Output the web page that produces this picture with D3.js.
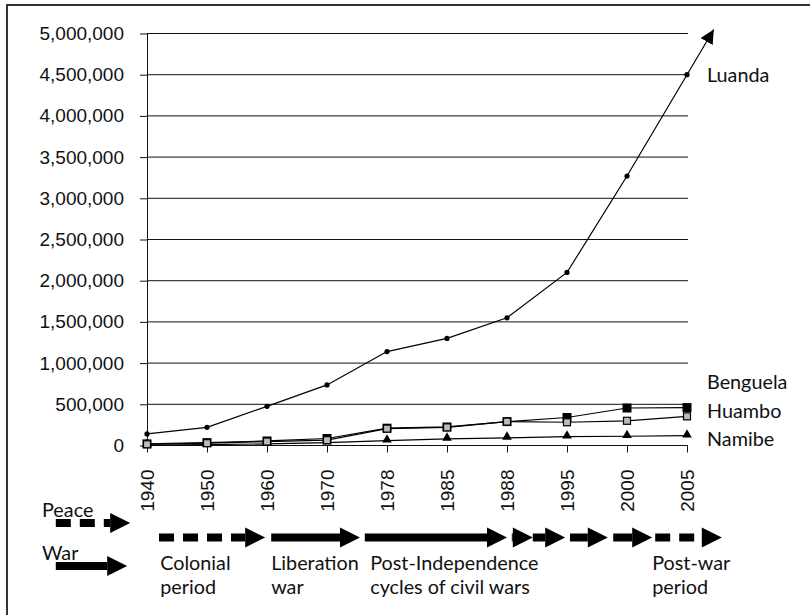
<!DOCTYPE html>
<html>
<head>
<meta charset="utf-8">
<script src="https://cdn.jsdelivr.net/npm/d3@7"></script>
<style>
  body { margin: 0; background: #fff; }
  .tick text { font-family: "Liberation Sans", Arial, sans-serif; }
  .lbl { font-family: Lato, "Open Sans", sans-serif; font-size: 19.8px; fill: #111; }
</style>
</head>
<body>
<div id="chart"></div>
<script>
var years = ["1940", "1950", "1960", "1970", "1978", "1985", "1988", "1995", "2000", "2005"];
var luanda   = [140000, 220000, 475000, 735000, 1140000, 1300000, 1550000, 2100000, 3270000, 4500000];
var benguela = [20000, 35000, 55000, 85000, 210000, 225000, 290000, 340000, 455000, 460000];
var huambo   = [15000, 28000, 48000, 65000, 205000, 220000, 290000, 282000, 300000, 354000];
var namibe   = [5000, 10000, 20000, 35000, 58000, 80000, 92000, 107000, 112000, 119000];
var yTicks = [0, 500000, 1000000, 1500000, 2000000, 2500000, 3000000, 3500000, 4000000, 4500000, 5000000];

// timeline arrows, in units of category index (0 = 1940, 9 = 2005)
var periods = [
  {from: 0.2, to: 1.97, kind: "peace"},
  {from: 2.07, to: 3.55, kind: "war"},
  {from: 3.63, to: 6.0, kind: "war"},
  {from: 6.08, to: 6.43, kind: "war"},
  {from: 6.43, to: 6.97, kind: "war"},
  {from: 7.05, to: 7.68, kind: "war"},
  {from: 7.77, to: 8.42, kind: "war"},
  {from: 8.47, to: 9.58, kind: "peace"}
];
var periodLabels = [
  {at: 0.22, lines: ["Colonial", "period"]},
  {at: 2.07, lines: ["Liberation", "war"]},
  {at: 3.72, lines: ["Post-Independence", "cycles of civil wars"]},
  {at: 8.42, lines: ["Post-war", "period"]}
];
var legendArrows = [
  {from: -1.52, to: -0.28, kind: "peace", name: "Peace"},
  {from: -1.52, to: -0.33, kind: "war", name: "War"}
];

var svgWidth = 810;
var svgHeight = 615;

var svg = d3.select("#chart")
  .append("svg")
  .attr("width", svgWidth)
  .attr("height", svgHeight);

// outer frame (only top and left show)
svg.append("rect")
  .attr("x", 7).attr("y", 5)
  .attr("width", 820).attr("height", 630)
  .attr("fill", "none")
  .attr("stroke", "#333")
  .attr("stroke-width", 2);

var x = d3.scalePoint().domain(years).range([147, 687]);
var xi = d3.scaleLinear().domain([0, years.length - 1]).range([147, 687]);
var y = d3.scaleLinear().domain([0, 5000000]).range([445.5, 33.5]);

// gridlines
svg.append("g")
  .selectAll("line")
  .data(yTicks.slice(1))
  .enter()
  .append("line")
  .attr("x1", 147).attr("x2", 688)
  .attr("y1", d => y(d)).attr("y2", d => y(d))
  .attr("stroke", "#111")
  .attr("stroke-width", 1);

// y axis
var leftAxis = d3.axisLeft(y)
  .tickValues(yTicks)
  .tickFormat(d3.format(","))
  .tickSize(7)
  .tickSizeOuter(0)
  .tickPadding(16);

var yAxis = svg.append("g")
  .attr("transform", "translate(147,0)")
  .call(leftAxis);
yAxis.selectAll("text").attr("font-size", "19px").attr("fill", "#111");
yAxis.selectAll("line, path").attr("stroke", "#111");

// x axis
var bottomAxis = d3.axisBottom(x).tickSize(7).tickSizeOuter(0);
var xAxis = svg.append("g")
  .attr("transform", "translate(0," + y(0) + ")")
  .call(bottomAxis);
xAxis.select("path").attr("d", "M147,0H688").attr("stroke", "#111");
xAxis.selectAll("line").attr("stroke", "#111");
xAxis.selectAll("text")
  .attr("font-size", "19px")
  .attr("fill", "#111")
  .attr("transform", "rotate(-90)")
  .attr("text-anchor", "end")
  .attr("x", -24)
  .attr("y", 0)
  .attr("dy", "0.35em");

var line = d3.line()
  .x((d, i) => x(years[i]))
  .y(d => y(d));

// Luanda arrow extension
svg.append("defs").append("marker")
  .attr("id", "head")
  .attr("viewBox", "0 0 10 10")
  .attr("refX", 10).attr("refY", 5)
  .attr("markerWidth", 14).attr("markerHeight", 14)
  .attr("markerUnits", "userSpaceOnUse")
  .attr("orient", "auto")
  .append("path")
  .attr("d", "M0,0L10,5L0,10Z")
  .attr("fill", "#000");

var n = years.length;
var x1 = x(years[n - 2]), y1 = y(luanda[n - 2]);
var x2 = x(years[n - 1]), y2 = y(luanda[n - 1]);
var tipY = y(5000000) - 4;
var tipX = x2 + (x2 - x1) * (tipY - y2) / (y2 - y1);
svg.append("line")
  .attr("x1", x2).attr("y1", y2)
  .attr("x2", tipX).attr("y2", tipY)
  .attr("stroke", "#000")
  .attr("stroke-width", 1.2)
  .attr("marker-end", "url(#head)");

var seriesList = [
  {name: "Namibe", values: namibe},
  {name: "Huambo", values: huambo},
  {name: "Benguela", values: benguela},
  {name: "Luanda", values: luanda}
];
seriesList.forEach(function(s) {
  svg.append("path")
    .datum(s.values)
    .attr("d", line)
    .attr("fill", "none")
    .attr("stroke", "#000")
    .attr("stroke-width", 1.2);
});

// markers
svg.append("g").selectAll("path")
  .data(namibe).enter().append("path")
  .attr("transform", (d, i) => "translate(" + x(years[i]) + "," + (y(d) - 1) + ")")
  .attr("d", d3.symbol().type(d3.symbolTriangle).size(40))
  .attr("fill", "#000");

svg.append("g").selectAll("rect")
  .data(benguela).enter().append("rect")
  .attr("x", (d, i) => x(years[i]) - 4.5)
  .attr("y", d => y(d) - 4.5)
  .attr("width", 9).attr("height", 9)
  .attr("fill", "#000");

svg.append("g").selectAll("rect")
  .data(huambo).enter().append("rect")
  .attr("x", (d, i) => x(years[i]) - 3.5)
  .attr("y", d => y(d) - 3.5)
  .attr("width", 7).attr("height", 7)
  .attr("fill", "#bbb")
  .attr("stroke", "#000")
  .attr("stroke-width", 1.2);

svg.append("g").selectAll("circle")
  .data(luanda).enter().append("circle")
  .attr("cx", (d, i) => x(years[i]))
  .attr("cy", d => y(d))
  .attr("r", 2.6)
  .attr("fill", "#000");

// series labels
var labelOffsets = {Luanda: 0, Benguela: -26, Huambo: -5, Namibe: 3};
seriesList.forEach(function(s) {
  svg.append("text")
    .attr("class", "lbl")
    .attr("x", 707)
    .attr("y", y(s.values[n - 1]) + labelOffsets[s.name])
    .attr("dy", "0.35em")
    .text(s.name);
});

// timeline arrows
function drawArrow(g, d, cy) {
  var xa = xi(d.from), xb = xi(d.to);
  var headLen = 20, headH = 20;
  var shaftEnd = Math.max(xa, xb - headLen);
  if (shaftEnd > xa) {
    g.append("line")
      .attr("x1", xa).attr("x2", shaftEnd)
      .attr("y1", cy).attr("y2", cy)
      .attr("stroke", "#000")
      .attr("stroke-width", 8)
      .attr("stroke-dasharray", d.kind === "peace" ? "15,9" : null);
  }
  g.append("path")
    .attr("d", "M" + (xb - headLen) + "," + (cy - headH / 2) +
               "L" + xb + "," + cy +
               "L" + (xb - headLen) + "," + (cy + headH / 2) + "Z")
    .attr("fill", "#000");
}

var arrowsG = svg.append("g");
periods.forEach(function(d) { drawArrow(arrowsG, d, 537.5); });

var legendY = {Peace: 523, War: 566};
legendArrows.forEach(function(d) {
  drawArrow(arrowsG, d, legendY[d.name]);
  svg.append("text")
    .attr("class", "lbl")
    .attr("x", 42)
    .attr("y", legendY[d.name] - 6)
    .text(d.name);
});

// each line of a period label is its own text
periodLabels.forEach(function(d) {
  d.lines.forEach(function(s, i) {
    svg.append("text")
      .attr("class", "lbl")
      .attr("x", xi(d.at))
      .attr("y", 570 + i * 24)
      .text(s);
  });
});
</script>
</body>
</html>
